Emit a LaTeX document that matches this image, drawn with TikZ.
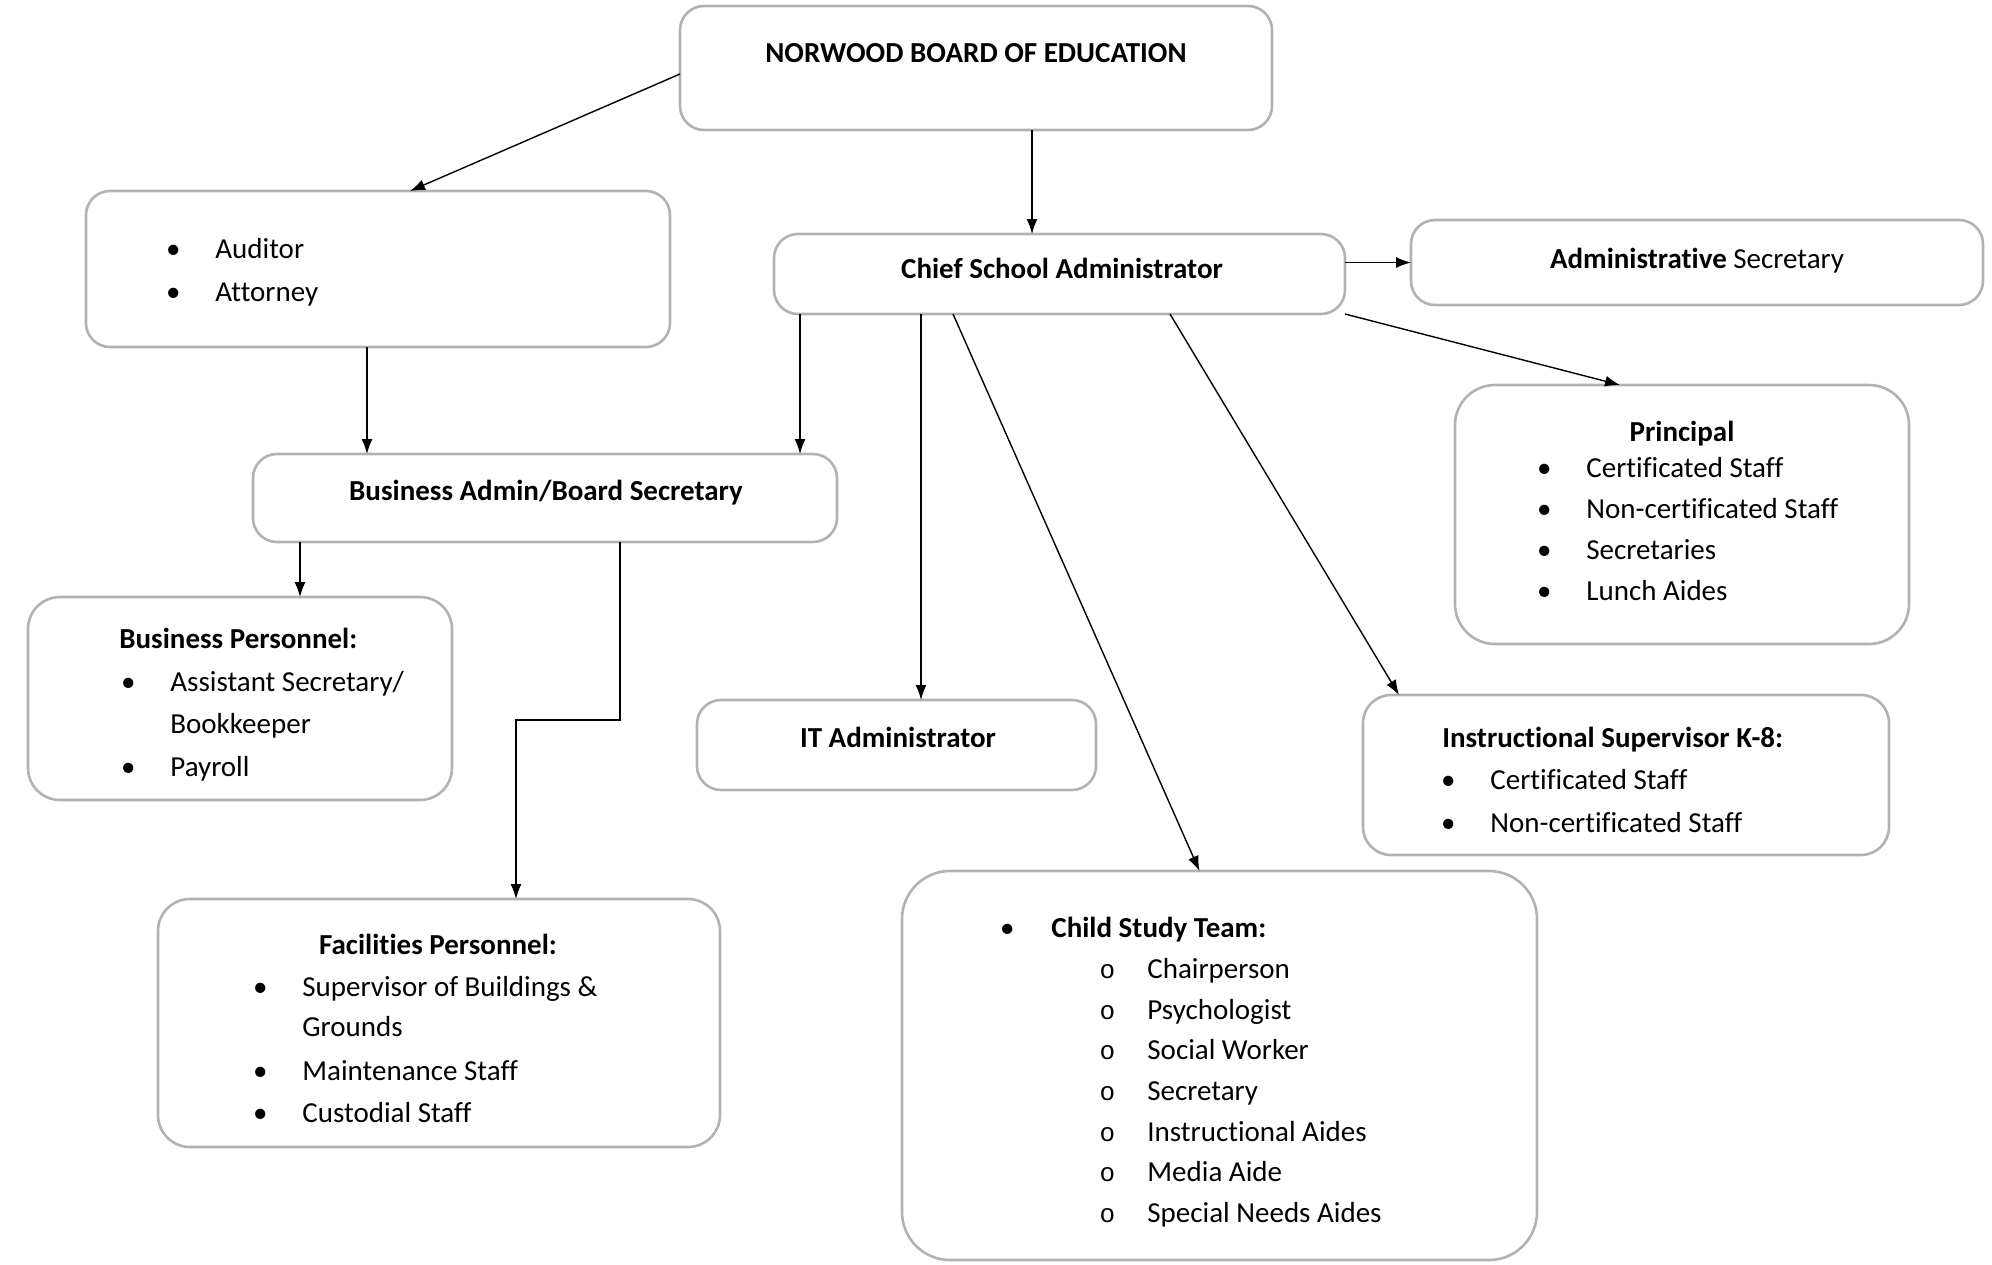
\documentclass[tikz,border=0pt]{standalone}
\usepackage{fontspec}
\setmainfont{Carlito}[Ligatures=NoCommon]
\newfontfamily\circfont{Liberation Mono}
\usetikzlibrary{arrows.meta}

\newcommand{\bul}{\makebox[0pt]{\textbullet}\hspace{21pt}}
\newcommand{\subbul}{\makebox[0pt]{\circfont\fontsize{13}{15}\selectfont o}\hspace{20pt}}

\tikzset{
  box/.style={draw=gray!60, line width=1.3pt, rounded corners=12pt, inner sep=0pt, outer sep=0pt},
  txt/.style={inner sep=0pt, yshift=-3pt, font=\fontsize{14.5}{17}\selectfont},
  head/.style={inner sep=0pt, yshift=-3pt, font=\fontsize{14.5}{17}\selectfont\bfseries},
  item/.style={txt, anchor=mid west},
  arr/.style={-{Latex[length=7.5pt,width=5.5pt]}, line width=0.7pt},
}

\begin{document}
\begin{tikzpicture}[x=0.5pt,y=-0.5pt]
  \useasboundingbox (0,0) rectangle (1992,1264);
  % Boxes
  \node[box, minimum width=296pt, minimum height=62pt] (board) at (976,68) {};
  \node[box, minimum width=292pt, minimum height=78pt] (audit) at (378,269) {};
  \node[box, minimum width=285.5pt, minimum height=40pt] (csa) at (1059.5,274) {};
  \node[box, minimum width=286pt, minimum height=42.5pt] (adsec) at (1697,262.5) {};
  \node[box, minimum width=227pt, minimum height=129.5pt, rounded corners=20pt] (princ) at (1682,514.5) {};
  \node[box, minimum width=292pt, minimum height=44pt] (bab) at (545,498) {};
  \node[box, minimum width=212pt, minimum height=101.5pt, rounded corners=16pt] (bizp) at (240,698.5) {};
  \node[box, minimum width=199.5pt, minimum height=45pt] (itad) at (896.5,745) {};
  \node[box, minimum width=263pt, minimum height=80pt, rounded corners=14pt] (insup) at (1626,775) {};
  \node[box, minimum width=281pt, minimum height=124pt, rounded corners=16pt] (facp) at (439,1023) {};
  \node[box, minimum width=317.5pt, minimum height=194.5pt, rounded corners=24pt] (cst) at (1219.5,1065.5) {};
  % Texts
  \node[head, anchor=mid] (board-t) at (976,52) {NORWOOD BOARD OF EDUCATION};
  \node[item] (audit-1) at (173,248) {\bul Auditor};
  \node[item] (audit-2) at (173,291) {\bul Attorney};
  \node[head, anchor=mid] (csa-t) at (1062,268) {Chief School Administrator};
  \node[txt, anchor=mid] (adsec-t) at (1697,258) {\textbf{Administrative} Secretary};
  \node[head, anchor=mid] (princ-t) at (1682,431) {Principal};
  \foreach \t [count=\i from 0] in {Certificated Staff, Non-certificated Staff, Secretaries, Lunch Aides}
    \node[item] (princ-\i) at (1544,{467+41*\i}) {\bul\t};
  \node[head, anchor=mid] (bab-t) at (546,490) {Business Admin/Board Secretary};
  \node[head, anchor=mid west] (bizp-t) at (119,638) {Business Personnel:};
  \node[item] (bizp-1) at (128,681) {\bul Assistant Secretary/};
  \node[item] (bizp-2) at (170,723) {Bookkeeper};
  \node[item] (bizp-3) at (128,766) {\bul Payroll};
  \node[head, anchor=mid] (itad-t) at (898,737) {IT Administrator};
  \node[head, anchor=mid west] (insup-t) at (1442,737) {Instructional Supervisor K-8:};
  \node[item] (insup-1) at (1448,779) {\bul Certificated Staff};
  \node[item] (insup-2) at (1448,822) {\bul Non-certificated Staff};
  \node[head, anchor=mid] (facp-t) at (438,944) {Facilities Personnel:};
  \node[item] (facp-1) at (260,986) {\bul Supervisor of Buildings \&};
  \node[item] (facp-2) at (302,1026) {Grounds};
  \node[item] (facp-3) at (260,1070) {\bul Maintenance Staff};
  \node[item] (facp-4) at (260,1112) {\bul Custodial Staff};
  \node[item] (cst-t) at (1007,927) {\makebox[0pt]{\textbullet}\hspace{22pt}\textbf{Child Study Team:}};
  \foreach \t [count=\i from 0] in {Chairperson, Psychologist, Social Worker, Secretary,
      Instructional Aides, Media Aide, Special Needs Aides}
    \node[item] (cst-\i) at (1107,{968+40.6*\i}) {\subbul\t};
  % Connectors
  \draw[arr] ([yshift=-3pt]board.west) -- ([xshift=16pt]audit.north);
  \draw[arr] ([xshift=28pt]board.south) coordinate (b1) -- (b1 |- csa.north);
  \draw[arr] (adsec.west -| csa.east) -- (adsec.west);
  \draw[arr] (csa.south east) -- ([xshift=-31pt]princ.north);
  \draw[arr] ([xshift=13pt]csa.south west) coordinate (c1) -- (c1 |- bab.north);
  \draw[arr] ([xshift=73.5pt]csa.south west) coordinate (c2) -- (c2 |- itad.north);
  \draw[arr] ([xshift=89.5pt]csa.south west) -- ([xshift=-10pt]cst.north);
  \draw[arr] ([xshift=198pt]csa.south west) -- ([xshift=18pt]insup.north west);
  \draw[arr] ([xshift=-5.5pt]audit.south) coordinate (a1) -- (a1 |- bab.north);
  \draw[arr] ([xshift=23.5pt]bab.south west) coordinate (d1) -- (d1 |- bizp.north);
  \draw[arr] ([xshift=183.5pt]bab.south west) -- ++(0,178) -| ([xshift=38.5pt]facp.north);
\end{tikzpicture}
\end{document}
